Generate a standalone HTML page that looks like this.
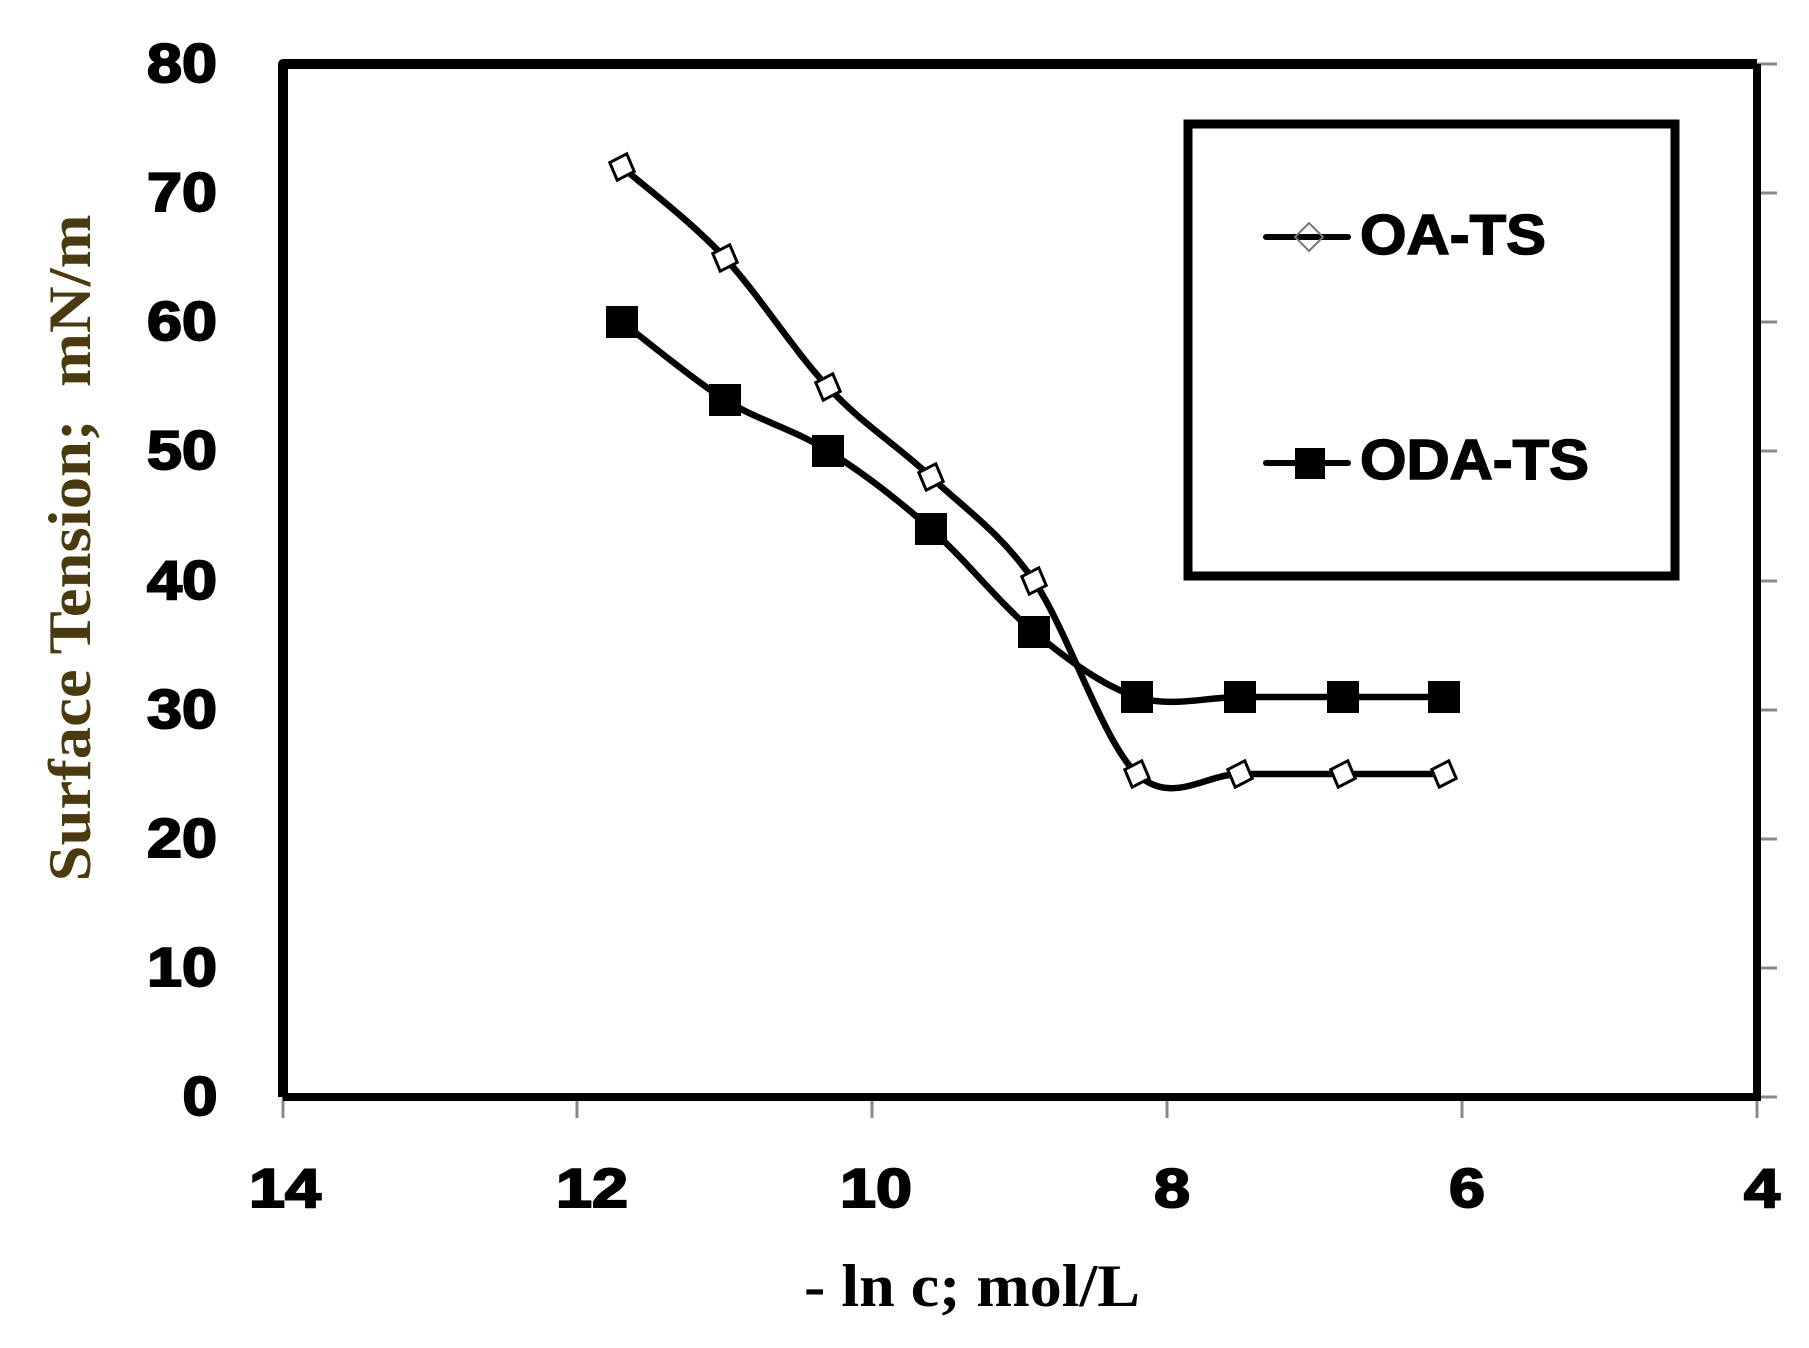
<!DOCTYPE html>
<html><head><meta charset="utf-8"><style>html,body{margin:0;padding:0;background:#fff}svg{display:block}</style></head>
<body>
<svg width="1809" height="1348" viewBox="0 0 1809 1348" xmlns="http://www.w3.org/2000/svg">
<rect width="1809" height="1348" fill="#fff"/>
<g stroke="#888" stroke-width="3">
<line x1="283" y1="1097" x2="283" y2="1118"/><line x1="577" y1="1097" x2="577" y2="1118"/><line x1="872" y1="1097" x2="872" y2="1118"/><line x1="1167" y1="1097" x2="1167" y2="1118"/><line x1="1462" y1="1097" x2="1462" y2="1118"/><line x1="1757" y1="1097" x2="1757" y2="1118"/>
<line x1="1757" y1="64" x2="1777" y2="64"/><line x1="1757" y1="193" x2="1777" y2="193"/><line x1="1757" y1="322" x2="1777" y2="322"/><line x1="1757" y1="451" x2="1777" y2="451"/><line x1="1757" y1="581" x2="1777" y2="581"/><line x1="1757" y1="710" x2="1777" y2="710"/><line x1="1757" y1="839" x2="1777" y2="839"/><line x1="1757" y1="968" x2="1777" y2="968"/><line x1="1757" y1="1097" x2="1777" y2="1097"/>
</g>
<path d="M283,1097 L283,64 L1757,64" fill="none" stroke="#000" stroke-width="10" stroke-linejoin="round"/>
<path d="M283,1097 L1757,1097 L1757,64" fill="none" stroke="#000" stroke-width="8"/>
<rect x="1188" y="124" width="487" height="452" fill="none" stroke="#000" stroke-width="9"/>
<line x1="1266" y1="237" x2="1348" y2="237" stroke="#000" stroke-width="6" stroke-linecap="round"/>
<path d="M1309,223 L1323,237 L1309,251 L1295,237 Z" fill="none" stroke="#777" stroke-width="2"/>
<text x="1360" y="254" font-family="Liberation Sans, sans-serif" font-weight="bold" font-size="57" stroke="#000" stroke-width="1.5" textLength="186" lengthAdjust="spacingAndGlyphs">OA-TS</text>
<line x1="1266" y1="463" x2="1348" y2="463" stroke="#000" stroke-width="6" stroke-linecap="round"/>
<rect x="1295" y="448" width="30" height="31" fill="#000"/>
<text x="1360" y="479" font-family="Liberation Sans, sans-serif" font-weight="bold" font-size="57" stroke="#000" stroke-width="1.5" textLength="229" lengthAdjust="spacingAndGlyphs">ODA-TS</text>
<path d="M622,167 C639,182 691,221 725,258 C759,295 794,351 828,387 C862,424 897,445 931,477 C965,509 1000,532 1034,581 C1068,631 1103,742 1137,774 C1171,806 1206,774 1240,774 L1444,774" fill="none" stroke="#000" stroke-width="6.5"/>
<path d="M622,322 C639,335 691,378 725,400 C759,421 794,429 828,451 C862,472 897,499 931,529 C965,559 1000,604 1034,632 C1068,660 1103,686 1137,697 C1171,708 1206,697 1240,697 L1444,697" fill="none" stroke="#000" stroke-width="6.5"/>
<g fill="#fff" stroke="#000" stroke-width="3">
<path d="M622,153 l13,14 l-13,14 l-13,-14 z" transform="rotate(20 622 167)"/>
<path d="M725,244 l13,14 l-13,14 l-13,-14 z" transform="rotate(20 725 258)"/>
<path d="M828,373 l13,14 l-13,14 l-13,-14 z" transform="rotate(20 828 387)"/>
<path d="M931,463 l13,14 l-13,14 l-13,-14 z" transform="rotate(20 931 477)"/>
<path d="M1034,567 l13,14 l-13,14 l-13,-14 z" transform="rotate(20 1034 581)"/>
<path d="M1137,760 l13,14 l-13,14 l-13,-14 z" transform="rotate(20 1137 774)"/>
<path d="M1240,760 l13,14 l-13,14 l-13,-14 z" transform="rotate(20 1240 774)"/>
<path d="M1343,760 l13,14 l-13,14 l-13,-14 z" transform="rotate(20 1343 774)"/>
<path d="M1444,760 l13,14 l-13,14 l-13,-14 z" transform="rotate(20 1444 774)"/>
</g>
<g fill="#000">
<rect x="606" y="306" width="32" height="32"/>
<rect x="709" y="384" width="32" height="32"/>
<rect x="812" y="435" width="32" height="32"/>
<rect x="915" y="513" width="32" height="32"/>
<rect x="1018" y="616" width="32" height="32"/>
<rect x="1121" y="681" width="32" height="32"/>
<rect x="1224" y="681" width="32" height="32"/>
<rect x="1327" y="681" width="32" height="32"/>
<rect x="1428" y="681" width="32" height="32"/>
</g>
<g font-family="Liberation Sans, sans-serif" font-weight="bold" font-size="55" text-anchor="middle" stroke="#000" stroke-width="2">
<text x="182" y="82" textLength="70" lengthAdjust="spacingAndGlyphs">80</text>
<text x="182" y="211" textLength="70" lengthAdjust="spacingAndGlyphs">70</text>
<text x="182" y="340" textLength="70" lengthAdjust="spacingAndGlyphs">60</text>
<text x="182" y="469" textLength="70" lengthAdjust="spacingAndGlyphs">50</text>
<text x="182" y="599" textLength="70" lengthAdjust="spacingAndGlyphs">40</text>
<text x="182" y="728" textLength="70" lengthAdjust="spacingAndGlyphs">30</text>
<text x="182" y="857" textLength="70" lengthAdjust="spacingAndGlyphs">20</text>
<text x="182" y="986" textLength="70" lengthAdjust="spacingAndGlyphs">10</text>
<text x="200" y="1115" textLength="35" lengthAdjust="spacingAndGlyphs">0</text>
<text x="285" y="1207" textLength="72" lengthAdjust="spacingAndGlyphs">14</text>
<text x="592" y="1207" textLength="72" lengthAdjust="spacingAndGlyphs">12</text>
<text x="876" y="1207" textLength="72" lengthAdjust="spacingAndGlyphs">10</text>
<text x="1172" y="1207" textLength="36" lengthAdjust="spacingAndGlyphs">8</text>
<text x="1467" y="1207" textLength="36" lengthAdjust="spacingAndGlyphs">6</text>
<text x="1762" y="1207" textLength="36" lengthAdjust="spacingAndGlyphs">4</text>
</g>
<text x="972" y="1306" font-family="Liberation Serif, serif" font-weight="bold" font-size="60" text-anchor="middle" textLength="336" lengthAdjust="spacingAndGlyphs">- ln c; mol/L</text>
<text transform="translate(90,548) rotate(-90)" font-family="Liberation Serif, serif" font-weight="bold" font-size="60" text-anchor="middle" fill="#4a3a10" textLength="667" lengthAdjust="spacingAndGlyphs" xml:space="preserve">Surface Tension;  mN/m</text>
</svg>
</body></html>
